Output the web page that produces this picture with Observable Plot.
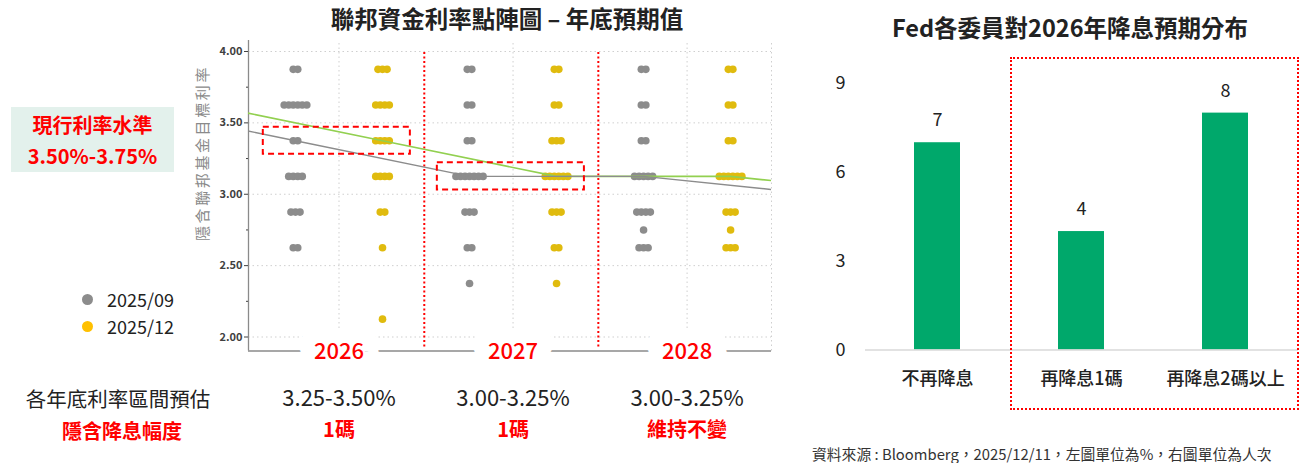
<!DOCTYPE html>
<html><head><meta charset="utf-8">
<script src="https://cdn.jsdelivr.net/npm/d3@7"></script>
<script src="https://cdn.jsdelivr.net/npm/@observablehq/plot@0.6"></script>
<style>
body{margin:0;width:1308px;height:463px;position:relative;background:#fff;font-family:'Noto Sans CJK TC','Noto Sans',sans-serif;overflow:hidden}
.abs{position:absolute;white-space:nowrap}
</style></head><body>
<script>
// ---------- data ----------
const rateLevels = [3.875, 3.625, 3.375, 3.125, 2.875, 2.75, 2.625, 2.375, 2.125];
const years = ["2026", "2027", "2028"];
const seriesNames = ["2025/09", "2025/12"];
const sep2026 = [2, 6, 2, 4, 3, 0, 2, 0, 0];
const dec2026 = [3, 4, 4, 4, 2, 0, 1, 0, 1];
const sep2027 = [2, 2, 2, 7, 3, 0, 2, 1, 0];
const dec2027 = [2, 2, 3, 6, 3, 0, 2, 1, 0];
const sep2028 = [2, 2, 2, 5, 4, 1, 3, 0, 0];
const dec2028 = [2, 2, 2, 6, 3, 1, 3, 0, 0];
const medianPeriods = ["2025", "2026", "2027", "2028", "長期"];
const medianSep = [3.625, 3.375, 3.125, 3.125, 3.0];
const medianDec = [3.625, 3.375, 3.125, 3.125, 3.0];
const yTicks = [2.0, 2.5, 3.0, 3.5, 4.0];
const yMinorTicks = [2.25, 2.75, 3.25, 3.75];
const rangeLabels = ["3.25-3.50%", "3.00-3.25%", "3.00-3.25%"];
const cutLabels = ["1碼", "1碼", "維持不變"];
const highlightYears = ["2026", "2027"];
const highlightRates = [3.375, 3.125];

const barCats = ["不再降息", "再降息1碼", "再降息2碼以上"];
const barCounts = [7, 4, 8];
const barTicks = [0, 3, 6, 9];

// ---------- styles ----------
const FONT = "'Noto Sans CJK TC','Noto Sans',sans-serif";
const RED = "#ff0000";
const GREY = "#8c8c8c";
const YELLOW = "#e0bb0e";
const GREEN_LINE = "#92d050";
const BAR = "#00a86b";
const xDomain = [-0.54, 5.47];
const yDomain = [1.902, 4.077];
const dotStep = 0.052;

// ---------- derived tables ----------
const countsBy = [[sep2026, dec2026], [sep2027, dec2027], [sep2028, dec2028]];
const dots = [];
years.forEach((yr, yi) => countsBy[yi].forEach((counts, si) => counts.forEach((n, ri) => {
  for (let k = 0; k < n; k++) dots.push({x: 2 * yi + si + (k - (n - 1) / 2) * dotStep, y: rateLevels[ri], s: seriesNames[si]});
})));
const medLines = [
  ...medianPeriods.map((p, i) => ({x: 2 * i - 2, y: medianSep[i], s: seriesNames[0]})),
  ...medianPeriods.map((p, i) => ({x: 2 * i - 1, y: medianDec[i], s: seriesNames[1]}))
];
const yearRows = years.map((y, i) => ({year: y, x: 2 * i + 0.5, sep: 2 * i + 1.48, range: rangeLabels[i], cut: cutLabels[i]}));
const boxes = highlightYears.map((y, i) => {
  const yi = years.indexOf(y);
  return {x1: 2 * yi - 0.37, x2: 2 * yi + 1 + 0.32, y1: highlightRates[i] - 0.095, y2: highlightRates[i] + 0.095};
});

// ---------- left dot plot ----------
const left = Plot.plot({
  width: 600, height: 420,
  marginLeft: 58, marginRight: 19, marginTop: 10, marginBottom: 99.5,
  style: {fontFamily: FONT, background: "transparent", overflow: "visible"},
  x: {domain: xDomain, axis: null},
  y: {domain: yDomain},
  color: {domain: seriesNames, range: [GREY, YELLOW]},
  marks: [
    Plot.ruleY(yTicks, {stroke: "#cfcfcf", strokeDasharray: "1.5,3", strokeWidth: 1}),
    Plot.ruleX(yearRows, {x: "x", y1: yDomain[0], y2: yDomain[1], stroke: "#cfcfcf", strokeDasharray: "1.5,3"}),
    Plot.ruleX([xDomain[1]], {y1: yDomain[0], y2: yDomain[1], stroke: "#cfcfcf", strokeDasharray: "1.5,3"}),
    Plot.ruleX(yearRows.slice(0, 2), {x: "sep", y1: 1.93, y2: 4.0, stroke: RED, strokeWidth: 2, strokeDasharray: "2,2.5"}),
    Plot.ruleX([xDomain[0]], {y1: yDomain[0], y2: yDomain[1], stroke: "#8a8a8a", strokeWidth: 1.3}),
    Plot.ruleY([yDomain[0]], {stroke: "#8a8a8a", strokeWidth: 1.5}),
    Plot.dot(dots, {x: "x", y: "y", fill: "s", r: 3.8}),
    Plot.line(medLines.filter(d => d.s === seriesNames[1]), {x: "x", y: "y", stroke: GREEN_LINE, strokeWidth: 1.6, clip: true}),
    Plot.line(medLines.filter(d => d.s === seriesNames[0]), {x: "x", y: "y", stroke: GREY, strokeWidth: 1.4, clip: true}),
    Plot.rect(boxes, {x1: "x1", x2: "x2", y1: "y1", y2: "y2", fill: "none", stroke: RED, strokeWidth: 2, strokeDasharray: "6,4"}),
    Plot.axisY({ticks: yTicks, tickFormat: d3.format(".2f"), tickSize: 4, tickPadding: 2, fontSize: 11, fontWeight: 600, color: "#404040", label: null}),
    Plot.axisY({ticks: yMinorTicks, tickFormat: () => "", tickSize: 2, color: "#404040", label: null}),
    Plot.text(yearRows, {x: "x", y: yDomain[0], dy: 1, text: "year", fill: RED, stroke: "white", strokeWidth: 31, fontSize: 22, fontWeight: 500}),
    Plot.text(yearRows, {x: "x", y: yDomain[0], dy: 47.5, text: "range", fill: "#222", fontSize: 22}),
    Plot.text(yearRows, {x: "x", y: yDomain[0], dy: 80, text: "cut", fill: RED, fontSize: 20, fontWeight: 700})
  ]
});
left.style.position = "absolute"; left.style.left = "190px"; left.style.top = "30px";
document.body.appendChild(left);

// ---------- right bar chart ----------
const bars = barCats.map((c, i) => ({cat: c, n: barCounts[i]}));
const right = Plot.plot({
  width: 508, height: 380,
  marginLeft: 65, marginRight: 10, marginTop: 43, marginBottom: 70.5,
  style: {fontFamily: FONT, background: "transparent", overflow: "visible"},
  x: {domain: barCats, paddingInner: 0.68, paddingOuter: 0.34},
  y: {domain: [0, 9]},
  marks: [
    Plot.barY(bars, {x: "cat", y: "n", fill: BAR}),
    Plot.ruleY([0], {stroke: "#d9d9d9", strokeWidth: 1.3}),
    Plot.text(bars, {x: "cat", y: "n", text: "n", dy: -22, fontSize: 18, fill: "#222"}),
    Plot.axisY({ticks: barTicks, tickSize: 0, tickPadding: 20, fontSize: 18, color: "#222", label: null}),
    Plot.axisX({tickSize: 0, tickPadding: 22, fontSize: 18, fontWeight: 500, color: "#222", label: null})
  ]
});
right.style.position = "absolute"; right.style.left = "800px"; right.style.top = "40px";
document.body.appendChild(right);

// ---------- html annotations ----------
function addDiv(html, css) {
  const d = document.createElement("div");
  d.className = "abs";
  d.innerHTML = html;
  Object.assign(d.style, css);
  document.body.appendChild(d);
  return d;
}
addDiv("聯邦資金利率點陣圖 – 年底預期值", {left: "507px", top: "18px", transform: "translate(-50%,-50%)", fontSize: "23.5px", fontWeight: "700", color: "#222"});
addDiv("Fed各委員對2026年降息預期分布", {left: "1070px", top: "27px", transform: "translate(-50%,-50%)", fontSize: "23.5px", fontWeight: "700", color: "#222"});
addDiv("隱含聯邦基金目標利率", {left: "201px", top: "153px", transform: "translate(-50%,-50%) rotate(-90deg)", fontSize: "15px", letterSpacing: "2.6px", color: "#8a8a8a"});
addDiv("現行利率水準<br>3.50%-3.75%", {left: "11px", top: "107px", width: "163px", height: "65px", background: "#e3f1ec", color: RED, fontWeight: "700", fontSize: "20px", lineHeight: "31px", textAlign: "center", paddingTop: "2px", boxSizing: "border-box"});
addDiv("", {left: "81.5px", top: "293.5px", width: "11px", height: "11px", borderRadius: "50%", background: GREY});
addDiv("", {left: "81.5px", top: "320.5px", width: "11px", height: "11px", borderRadius: "50%", background: "#ffc000"});
addDiv(seriesNames[0], {left: "107px", top: "299px", transform: "translateY(-50%)", fontSize: "18px", color: "#222"});
addDiv(seriesNames[1], {left: "107px", top: "326px", transform: "translateY(-50%)", fontSize: "18px", color: "#222"});
addDiv("各年底利率區間預估", {left: "118px", top: "398px", transform: "translate(-50%,-50%)", fontSize: "20.5px", color: "#222"});
addDiv("隱含降息幅度", {left: "122px", top: "430px", transform: "translate(-50%,-50%)", fontSize: "20px", fontWeight: "700", color: RED});
addDiv("", {left: "1010px", top: "57px", width: "289px", height: "353px", border: "2px dotted " + RED, boxSizing: "border-box"});
addDiv("資料來源 : Bloomberg，2025/12/11，左圖單位為%，右圖單位為人次", {left: "812px", top: "453px", transform: "translateY(-50%)", fontSize: "14.8px", color: "#333"});
</script>
</body></html>
